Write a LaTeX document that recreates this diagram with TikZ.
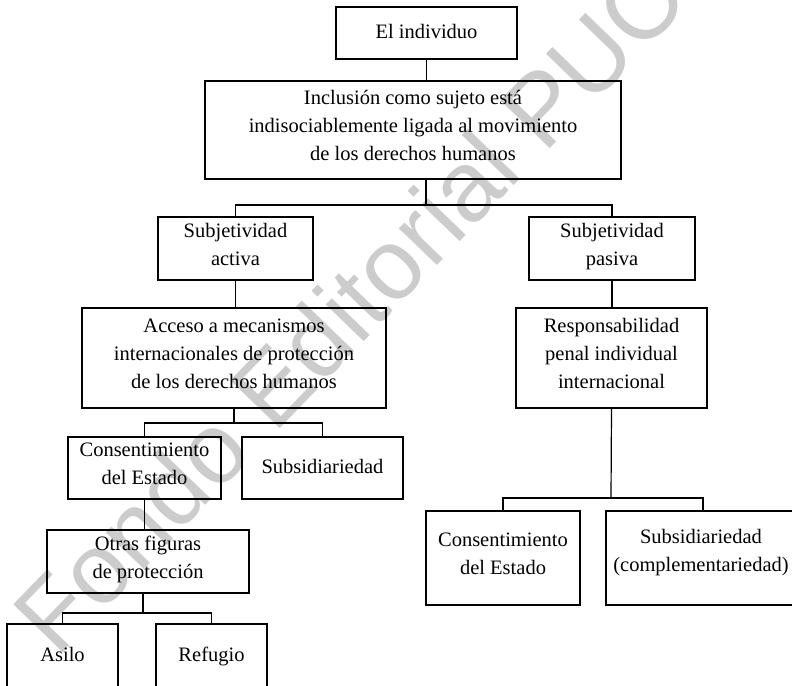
\documentclass[tikz,border=0pt]{standalone}
\usepackage{fontspec}
\setmainfont{Liberation Serif}
\newfontfamily\markfont{Liberation Sans}
\begin{document}
\begin{tikzpicture}[x=1pt,y=-1pt,
    pucpbox/.style={shape=rectangle,draw,line width=1.2pt,align=center,inner sep=2pt,
      font=\fontsize{20.5}{28}\selectfont,
      execute at begin node=\strut,execute at end node=\strut},
    pucpline/.style={line width=1.2pt}]
    \definecolor{pucp_mark}{RGB}{204,204,204}
    \useasboundingbox (0,0) rectangle (792,685);
    \clip (0,0) rectangle (792,685);
    % watermark
    \node[text=pucp_mark,rotate=46,font=\fontsize{100}{100}\markfont] (mark) at (372,282) {Fondo Editorial PUCP};
    % boxes
    \node[pucpbox,minimum width=181,minimum height=52]  (indiv)   at (426.5,33)  {El individuo};
    \node[pucpbox,minimum width=416,minimum height=98]  (inclu)   at (413,130)   {Inclusión como sujeto está\\indisociablemente ligada al movimiento\\de los derechos humanos};
    \node[pucpbox,minimum width=155,minimum height=63]  (activa)  at (235.5,248.5) {Subjetividad\\activa};
    \node[pucpbox,minimum width=166,minimum height=63]  (pasiva)  at (612,248.5) {Subjetividad\\pasiva};
    \node[pucpbox,minimum width=304,minimum height=100] (acceso)  at (234,358)   {Acceso a mecanismos\\internacionales de protección\\de los derechos humanos};
    \node[pucpbox,minimum width=191,minimum height=100] (respon)  at (611.5,358) {Responsabilidad\\penal individual\\internacional};
    \node[pucpbox,minimum width=153,minimum height=62]  (consA)   at (144.5,468) {Consentimiento\\del Estado};
    \node[pucpbox,minimum width=161,minimum height=62]  (subsA)   at (322.5,468) {Subsidiariedad};
    \node[pucpbox,minimum width=202,minimum height=63]  (otras)   at (148,561.5) {Otras figuras\\de protección};
    \node[pucpbox,minimum width=111,minimum height=64]  (asilo)   at (62.5,656)  {Asilo};
    \node[pucpbox,minimum width=111,minimum height=64]  (refugio) at (211.5,656) {Refugio};
    \node[pucpbox,minimum width=154,minimum height=94]  (consB)   at (503,558)   {Consentimiento\\del Estado};
    \node[pucpbox,minimum width=194,minimum height=94]  (subsB)   at (703,558)   {};
    \node[font=\fontsize{20.5}{28}\selectfont,align=center] (subsBtext) at (701,553) {Subsidiariedad\\(complementariedad)};
    % connectors
    \coordinate (barA) at (426,205);
    \coordinate (barB) at (234,423);
    \coordinate (barC) at (143,613);
    \coordinate (barD) at (611,498);
    \draw[pucpline] (indiv.south) -- (indiv.south |- inclu.north);
    \draw[pucpline] (barA |- inclu.south) -- (barA);
    \draw[pucpline] (activa.north) |- (barA) -| (pasiva.north);
    \draw[pucpline] (activa.south) -- (activa.south |- acceso.north);
    \draw[pucpline] (pasiva.south) -- (pasiva.south |- respon.north);
    \draw[pucpline] (acceso.south) -- (barB);
    \draw[pucpline] (consA.north) |- (barB) -| (subsA.north);
    \draw[pucpline] (consA.south) -- (consA.south |- otras.north);
    \draw[pucpline] (barC |- otras.south) -- (barC);
    \draw[pucpline] (asilo.north) |- (barC) -| (refugio.north);
    \draw[pucpline] (respon.south) -- (barD);
    \draw[pucpline] (consB.north) |- (barD) -| (subsB.north);
\end{tikzpicture}
\end{document}
